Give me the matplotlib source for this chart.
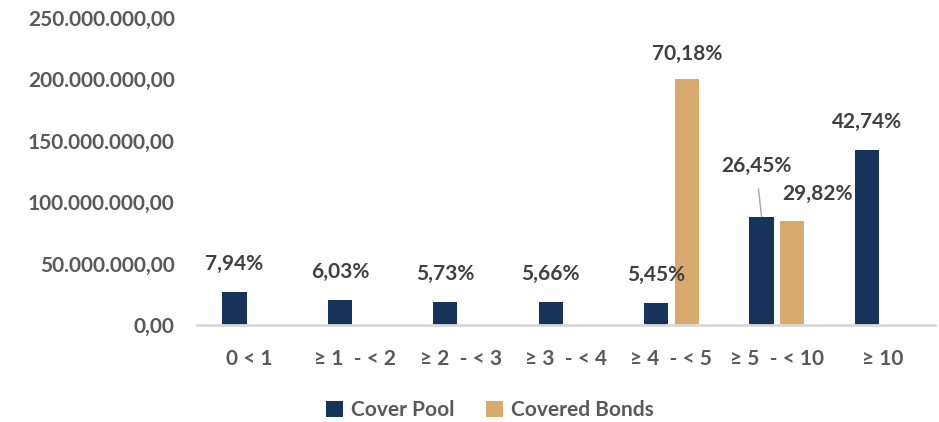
import matplotlib.pyplot as plt
import numpy as np

plt.rcParams['font.family'] = ['Lato', 'DejaVu Sans']
plt.rcParams['font.weight'] = 'bold'

categories = ["0 < 1", "\u2265 1  - < 2", "\u2265 2  - < 3", "\u2265 3  - < 4",
              "\u2265 4  - < 5", "\u2265 5  - < 10", "\u2265 10"]
cover_pool = [26.5e6, 20.1e6, 19.1e6, 18.9e6, 18.2e6, 88.2e6, 142.5e6]
covered_bonds = [0, 0, 0, 0, 200.0e6, 85.0e6, 0]
pool_labels = ["7,94%", "6,03%", "5,73%", "5,66%", "5,45%", "26,45%", "42,74%"]
bond_labels = ["", "", "", "", "70,18%", "29,82%", ""]
yticks = [0, 50e6, 100e6, 150e6, 200e6, 250e6]
ytick_labels = ["0,00", "50.000.000,00", "100.000.000,00", "150.000.000,00",
                "200.000.000,00", "250.000.000,00"]

navy = "#163459"
tan = "#D9AA6E"
lab_col = "#404040"
fs = 15

fig = plt.figure(figsize=(9.39, 4.22), dpi=100)
ax = fig.add_axes([197 / 939, 97 / 422, 738 / 939, 307 / 422])

x = np.arange(len(categories))
w = 0.23
off = 0.145
ax.bar(x - off, cover_pool, w, color=navy, label="Cover Pool")
bond_x = [xi + off for xi, v in zip(x, covered_bonds) if v > 0]
bond_v = [v for v in covered_bonds if v > 0]
ax.bar(bond_x, bond_v, w, color=tan, label="Covered Bonds")

ax.set_xlim(-0.5, len(categories) - 0.5)
ax.set_ylim(0, 250e6)
ax.set_yticks(yticks)
ax.set_yticklabels(ytick_labels, fontsize=fs, color="#595959", fontweight="bold")
ax.set_xticks(x)
ax.set_xticklabels(categories, fontsize=fs, color="#595959", fontweight="bold")
ax.tick_params(axis="both", length=0)
ax.tick_params(axis="y", pad=16)
ax.tick_params(axis="x", pad=17)
for s in ["top", "right", "left"]:
    ax.spines[s].set_visible(False)
ax.spines["bottom"].set_color("#D9D9D9")
ax.spines["bottom"].set_linewidth(2)

# data labels for cover pool
for i, (v, t) in enumerate(zip(cover_pool, pool_labels)):
    if i == 5:
        ax.annotate(t, xy=(x[i] - off, v), xytext=(-4, 29),
                    textcoords="offset points", ha="center", va="bottom",
                    fontsize=fs, color=lab_col, fontweight="bold",
                    arrowprops=dict(arrowstyle="-", color="#A6A6A6", lw=1,
                                    shrinkA=7, shrinkB=0))
    else:
        ax.annotate(t, xy=(x[i] - off, v), xytext=(0, 13),
                    textcoords="offset points", ha="center", va="bottom",
                    fontsize=fs, color=lab_col, fontweight="bold")

# data labels for covered bonds
for i, (v, t) in enumerate(zip(covered_bonds, bond_labels)):
    if not t:
        continue
    if i == 5:
        ax.annotate(t, xy=(x[i] + off, v), xytext=(18, 12),
                    textcoords="offset points", ha="center", va="bottom",
                    fontsize=fs, color=lab_col, fontweight="bold")
    else:
        ax.annotate(t, xy=(x[i] + off, v), xytext=(0, 11),
                    textcoords="offset points", ha="center", va="bottom",
                    fontsize=fs, color=lab_col, fontweight="bold")

leg = fig.legend(loc="center", bbox_to_anchor=(490 / 939, 1 - 410 / 422), ncol=2,
                 frameon=False, fontsize=fs, handlelength=0.8, handleheight=0.8,
                 handletextpad=0.4, columnspacing=1.5)
for t in leg.get_texts():
    t.set_color("#595959")
    t.set_fontweight("bold")

fig.savefig("out.png", dpi=100)
